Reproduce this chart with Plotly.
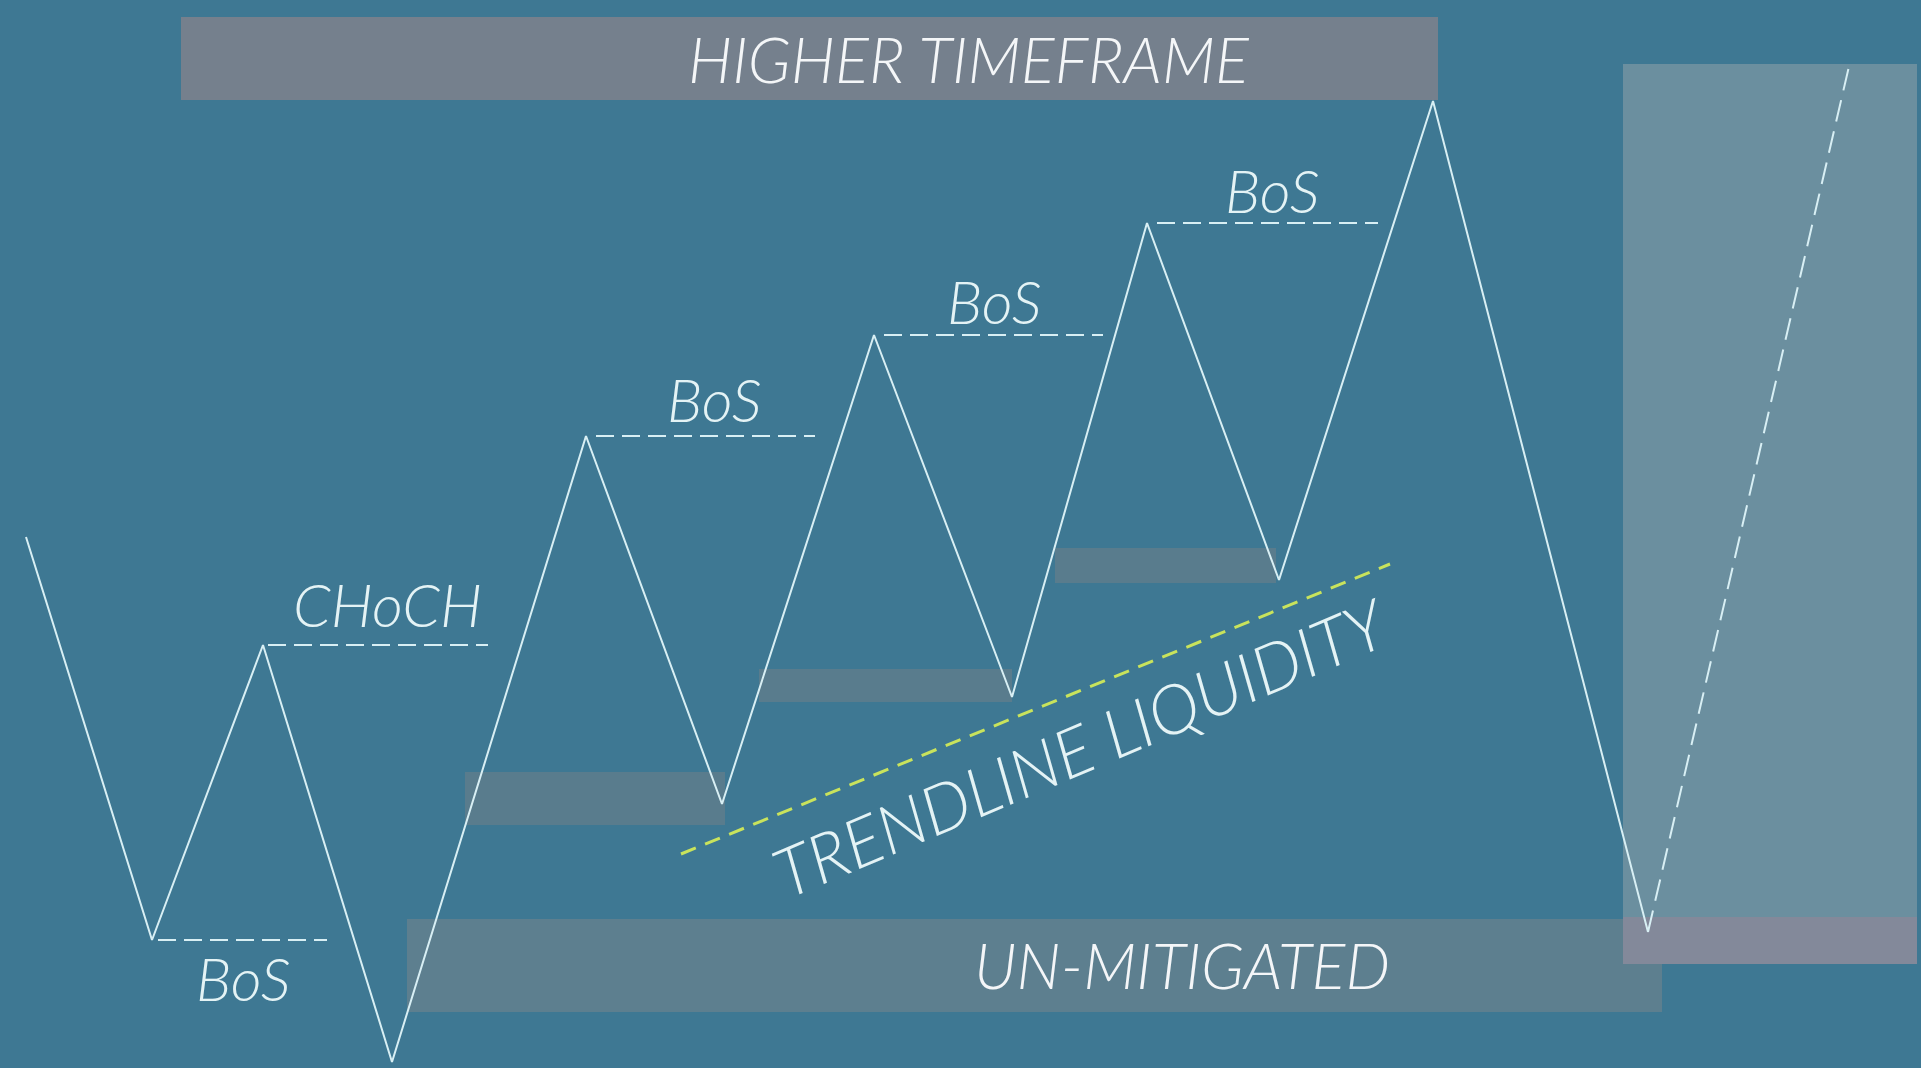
import plotly.graph_objects as go

# swing points of the price path (time, price)
swing_t = [26, 152, 263, 392, 586, 722, 874, 1012, 1147, 1279, 1433, 1648]
swing_p = [531, 128, 423, 6, 632, 264, 733, 371, 845, 488, 967, 136]

# projected move after the sweep
proj_t = [1648, 1850]
proj_p = [136, 1006]

# structure breaks: level start, level end, price, label, label position
break_t0 = [158, 268, 596, 884, 1157]
break_t1 = [327, 488, 815, 1103, 1378]
break_p = [128, 423, 632, 733, 845]
break_label = ["BoS", "CHoCH", "BoS", "BoS", "BoS"]
label_t = [243, 387, 714, 994, 1272]
label_p = [90, 464, 669, 767, 878]

# demand blocks left behind by the trend
block_t0 = [465, 759, 1055]
block_t1 = [725, 1012, 1276]
block_lo = [243, 366, 485]
block_hi = [296, 399, 520]

# trendline liquidity
trend_t = [681, 1390]
trend_p = [214, 504]

# larger zones
htf_zone = dict(t0=181, t1=1438, lo=968, hi=1051)
unmit_zone = dict(t0=407, t1=1662, lo=56, hi=149)
target_zone = dict(t0=1623, t1=1917, lo=151, hi=1004)
tap_zone = dict(t0=1623, t1=1917, lo=104, hi=151)

BG = "#3e7893"
LINE = "#d8eff4"
TXT = "#e4f3f5"
FONT = "Lato"

fig = go.Figure()

def zone(z, color):
    fig.add_shape(type="rect", xref="x", yref="y", x0=z["t0"], x1=z["t1"],
                  y0=z["lo"], y1=z["hi"], fillcolor=color, line_width=0, layer="below")

zone(htf_zone, "#75808d")
zone(unmit_zone, "#5d7f8f")
zone(target_zone, "#6b8f9f")
zone(tap_zone, "#83899a")
for a, b, lo, hi in zip(block_t0, block_t1, block_lo, block_hi):
    zone(dict(t0=a, t1=b, lo=lo, hi=hi), "#597c8d")

# price path
fig.add_trace(go.Scatter(x=swing_t, y=swing_p, mode="lines",
                         line=dict(color=LINE, width=2), hoverinfo="skip"))
fig.add_trace(go.Scatter(x=proj_t, y=proj_p, mode="lines",
                         line=dict(color=LINE, width=2, dash="22px,10px"), hoverinfo="skip"))

# break levels
for a, b, p in zip(break_t0, break_t1, break_p):
    fig.add_trace(go.Scatter(x=[a, b], y=[p, p], mode="lines",
                             line=dict(color=LINE, width=2, dash="18px,8px"), hoverinfo="skip"))

fig.add_trace(go.Scatter(x=trend_t, y=trend_p, mode="lines",
                         line=dict(color="#c9e35c", width=3, dash="16px,10px"), hoverinfo="skip"))

for txt, t, p in zip(break_label, label_t, label_p):
    fig.add_annotation(x=t, y=p, text=txt, showarrow=False, xanchor="center", yanchor="middle",
                       font=dict(family=FONT, size=60, color=TXT, style="italic", weight=300))

fig.add_annotation(x=969, y=(htf_zone["lo"] + htf_zone["hi"]) / 2,
                   text="HIGHER TIMEFRAME", showarrow=False, xanchor="center", yanchor="middle",
                   font=dict(family=FONT, size=63, color="#f4f6f8", style="italic", weight=300))
fig.add_annotation(x=1182, y=104, text="UN-MITIGATED", showarrow=False,
                   xanchor="center", yanchor="middle",
                   font=dict(family=FONT, size=63, color="#f4f6f8", style="italic", weight=300))
fig.add_annotation(x=1080, y=322, text="TRENDLINE LIQUIDITY", showarrow=False, textangle=-23,
                   xanchor="center", yanchor="middle",
                   font=dict(family=FONT, size=68, color=TXT, style="italic", weight=300))

fig.update_xaxes(range=[0, 1921], visible=False, fixedrange=True)
fig.update_yaxes(range=[0, 1068], visible=False, fixedrange=True)
fig.update_layout(width=1921, height=1068, margin=dict(l=0, r=0, t=0, b=0),
                  paper_bgcolor=BG, plot_bgcolor=BG, showlegend=False)

fig.write_html("out.html", config={"displayModeBar": False},
               post_script="document.body.style.margin='0';document.body.style.overflow='hidden';")
